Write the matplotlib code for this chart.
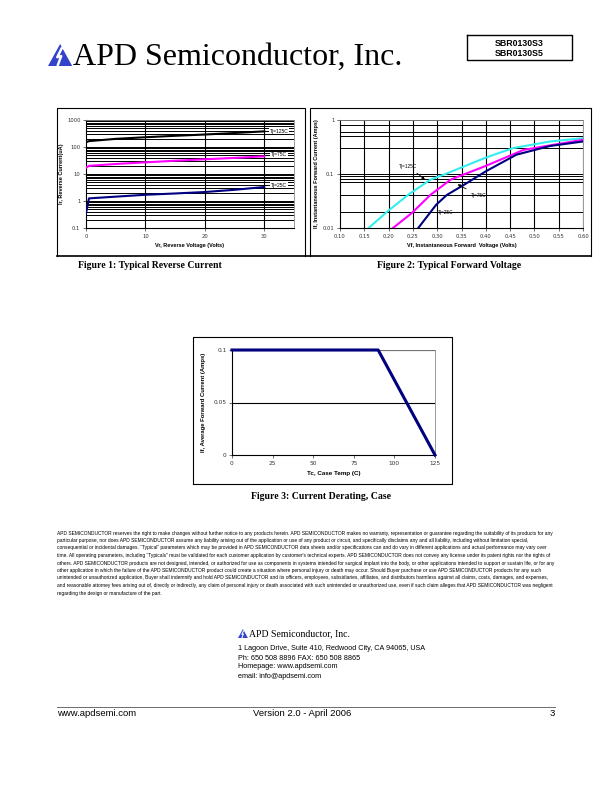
import matplotlib
matplotlib.use("Agg")
import matplotlib.pyplot as plt
from matplotlib.patches import Polygon
from matplotlib.lines import Line2D

W, H = 612, 792

# -----------------------------
# DATA
# -----------------------------
# Figure 1: reverse current vs reverse voltage
vr = [0, 0.5, 5, 10, 15, 20, 25, 30]
ir_125 = [150, 165, 200, 230, 260, 290, 330, 380]
ir_75 = [17, 20, 23.5, 27, 31, 35, 39.5, 45]
ir_25 = [0.35, 1.25, 1.45, 1.7, 1.9, 2.15, 2.6, 3.3]
vr_ticks = [0, 10, 20, 30]
ir_ticks = [0.1, 1, 10, 100, 1000]
ir_tick_labels = ["0.1", "1", "10", "100", "1000"]

# Figure 2: forward current vs forward voltage
vf_125 = [0.159, 0.198, 0.24, 0.286, 0.317, 0.398, 0.455, 0.532, 0.60]
if_125 = [0.010, 0.0204, 0.041, 0.0786, 0.10, 0.198, 0.30, 0.40, 0.46]
vf_75 = [0.209, 0.248, 0.286, 0.328, 0.398, 0.478, 0.60]
if_75 = [0.010, 0.019, 0.041, 0.079, 0.139, 0.28, 0.43]
vf_25 = [0.261, 0.298, 0.32, 0.355, 0.40, 0.463, 0.532, 0.60]
if_25 = [0.010, 0.027, 0.041, 0.063, 0.112, 0.228, 0.33, 0.40]
vf_ticks = [0.10, 0.15, 0.20, 0.25, 0.30, 0.35, 0.40, 0.45, 0.50, 0.55, 0.60]
if_ticks = [0.01, 0.1, 1]
if_tick_labels = ["0.01", "0.1", "1"]
if_grid = [0.8, 0.6, 0.5, 0.3, 0.09, 0.08, 0.07, 0.04, 0.02]

# Figure 3: current derating
tc = [0, 90, 125]
if_avg = [0.1, 0.1, 0]
tc_ticks = [0, 25, 50, 75, 100, 125]
ifa_ticks = [0, 0.05, 0.1]
ifa_tick_labels = ["0", "0.05", "0.1"]

disclaimer = [
    "APD SEMICONDUCTOR reserves the right to make changes without further notice to any products herein. APD SEMICONDUCTOR makes no warranty, representation or guarantee regarding the suitability of its products for any",
    "particular purpose, nor does APD SEMICONDUCTOR assume any liability arising out of the application or use of any product or circuit, and specifically disclaims any and all liability, including without limitation special,",
    "consequential or incidental damages. \u201cTypical\u201d parameters which may be provided in APD SEMICONDUCTOR data sheets and/or specifications can and do vary in different applications and actual performance may vary over",
    "time. All operating parameters, including \u201cTypicals\u201d must be validated for each customer application by customer's technical experts. APD SEMICONDUCTOR does not convey any license under its patent rights nor the rights of",
    "others. APD SEMICONDUCTOR products are not designed, intended, or authorized for use as components in systems intended for surgical implant into the body, or other applications intended to support or sustain life, or for any",
    "other application in which the failure of the APD SEMICONDUCTOR product could create a situation where personal injury or death may occur. Should Buyer purchase or use APD SEMICONDUCTOR products for any such",
    "unintended or unauthorized application, Buyer shall indemnify and hold APD SEMICONDUCTOR and its officers, employees, subsidiaries, affiliates, and distributors harmless against all claims, costs, damages, and expenses,",
    "and reasonable attorney fees arising out of, directly or indirectly, any claim of personal injury or death associated with such unintended or unauthorized use, even if such claim alleges that APD SEMICONDUCTOR was negligent",
    "regarding the design or manufacture of the part.",
]

address = [
    "1 Lagoon Drive, Suite 410, Redwood City, CA 94065, USA",
    "Ph: 650 508 8896 FAX: 650 508 8865",
    "Homepage: www.apdsemi.com",
    "email: info@apdsemi.com",
]

NAVY = "#000080"
MAGENTA = "#ff00ff"
CYAN = "#33eeee"
SERIF = "Liberation Serif"
SANS = "Liberation Sans"

fig = plt.figure(figsize=(W / 100, H / 100), dpi=100)
fig.patch.set_facecolor("white")


def rect(x0, y0, x1, y1):
    return [x0 / W, 1 - y1 / H, (x1 - x0) / W, (y1 - y0) / H]


def ftext(x, y, s, **kw):
    fig.text(x / W, 1 - y / H, s, **kw)


def fline(xs, ys, **kw):
    fig.add_artist(Line2D([x / W for x in xs], [1 - y / H for y in ys],
                          transform=fig.transFigure, **kw))


def logo(x, y, size):
    # blue triangle with white bolt
    pts = [(x, y + size), (x + size * 0.55, y), (x + size * 1.1, y + size)]
    fig.add_artist(Polygon([(px / W, 1 - py / H) for px, py in pts],
                           closed=True, transform=fig.transFigure,
                           facecolor="#3344cc", edgecolor="none"))
    bolt = [(x + size * 0.62, y + size * 0.2), (x + size * 0.42, y + size * 0.6),
            (x + size * 0.6, y + size * 0.55), (x + size * 0.45, y + size * 0.95)]
    fline([p[0] for p in bolt], [p[1] for p in bolt], color="white", lw=size * 0.08)


# -----------------------------
# HEADER
# -----------------------------
logo(48, 44, 22)
ftext(73, 65, "APD Semiconductor, Inc.", family=SERIF, fontsize=23, va="baseline")
fline([467, 572, 572, 467, 467], [35, 35, 60, 60, 35], color="black", lw=1)
ftext(519, 43, "SBR0130S3", family=SANS, fontsize=6.3, weight="bold", ha="center", va="center")
ftext(519, 53, "SBR0130S5", family=SANS, fontsize=6.3, weight="bold", ha="center", va="center")

# frames of the two top charts
fline([57, 57, 305, 305], [256, 108, 108, 256], color="black", lw=0.8)
fline([310, 310, 591, 591], [256, 108, 108, 256], color="black", lw=0.8)
fline([57, 591], [256, 256], color="black", lw=1.2)


def style_axes(ax, fs=3.8):
    ax.tick_params(labelsize=fs, length=2, width=0.5, colors="#333333", pad=2)
    for s in ("top", "right"):
        ax.spines[s].set_color("#888888")
        ax.spines[s].set_linewidth(0.6)
    for s in ("left", "bottom"):
        ax.spines[s].set_color("black")
        ax.spines[s].set_linewidth(0.8)


# -----------------------------
# FIGURE 1
# -----------------------------
ax1 = fig.add_axes(rect(86, 120, 294, 228))
ax1.set_yscale("log")
ax1.set_xlim(0, 35)
ax1.set_ylim(0.1, 1000)
for dec in [0.1, 1, 10, 100]:
    for m in range(1, 10):
        ax1.axhline(dec * m, color="black", lw=0.7, zorder=1)
ax1.axhline(1000, color="black", lw=0.7, zorder=1)
for v in vr_ticks[1:]:
    ax1.axvline(v, color="black", lw=0.8, zorder=1)
ax1.plot(vr, ir_125, color="black", lw=1.5, zorder=3)
ax1.plot(vr, ir_75, color=MAGENTA, lw=1.5, zorder=3)
ax1.plot(vr, ir_25, color=NAVY, lw=1.5, zorder=3)
lab_box = dict(facecolor="white", edgecolor="none", pad=0.6)
ax1.text(32.5, 390, "Tj=125C", fontsize=3.6, family=SANS, ha="center", va="center", bbox=lab_box, zorder=4)
ax1.text(32.5, 51, "Tj=75C", fontsize=3.6, family=SANS, ha="center", va="center", bbox=lab_box, zorder=4)
ax1.text(32.5, 3.9, "Tj=25C", fontsize=3.6, family=SANS, ha="center", va="center", bbox=lab_box, zorder=4)
ax1.set_xticks(vr_ticks)
ax1.set_xticklabels([str(v) for v in vr_ticks])
ax1.set_yticks(ir_ticks)
ax1.set_yticklabels(ir_tick_labels)
ax1.yaxis.set_minor_locator(matplotlib.ticker.NullLocator())
style_axes(ax1)
ax1.set_xlabel("Vr, Reverse Voltage (Volts)", fontsize=4, weight="bold", family=SANS, labelpad=3)
ax1.set_ylabel("Ir, Reverse Current(uA)", fontsize=4, weight="bold", family=SANS, labelpad=2)

# -----------------------------
# FIGURE 2
# -----------------------------
ax2 = fig.add_axes(rect(340, 120, 583, 228))
ax2.set_yscale("log")
ax2.set_xlim(0.10, 0.60)
ax2.set_ylim(0.01, 1)
for v in vf_ticks[1:]:
    ax2.axvline(v, color="black", lw=0.8, zorder=1)
for g in if_grid + [0.1, 1]:
    ax2.axhline(g, color="black", lw=0.7, zorder=1)
ax2.plot(vf_125, if_125, color=CYAN, lw=1.5, zorder=3)
ax2.plot(vf_75, if_75, color=MAGENTA, lw=1.5, zorder=3)
ax2.plot(vf_25, if_25, color=NAVY, lw=1.5, zorder=3)
arrow = dict(arrowstyle="-|>", color="black", lw=0.6, mutation_scale=4)
ax2.annotate("Tj=125C", xy=(0.279, 0.074), xytext=(0.24, 0.14), fontsize=3.4,
             family=SANS, ha="center", va="center", arrowprops=arrow, zorder=4)
ax2.annotate("Tj=75C", xy=(0.337, 0.068), xytext=(0.385, 0.04), fontsize=3.4,
             family=SANS, ha="center", va="center", arrowprops=arrow, zorder=4)
ax2.text(0.318, 0.019, "Tj=25C", fontsize=3.4, family=SANS, ha="center", va="center", zorder=4)
ax2.set_xticks(vf_ticks)
ax2.set_xticklabels(["%.2f" % v for v in vf_ticks])
ax2.set_yticks(if_ticks)
ax2.set_yticklabels(if_tick_labels)
ax2.yaxis.set_minor_locator(matplotlib.ticker.NullLocator())
style_axes(ax2)
ax2.set_xlabel("Vf, Instantaneous Forward  Voltage (Volts)", fontsize=4, weight="bold", family=SANS, labelpad=3)
ax2.set_ylabel("If, Instantaneous Forward Current (Amps)", fontsize=4, weight="bold", family=SANS, labelpad=3)

ftext(150, 266, "Figure 1: Typical Reverse Current", family=SERIF, fontsize=7, weight="bold", ha="center", va="center")
ftext(449, 266, "Figure 2: Typical Forward Voltage", family=SERIF, fontsize=7, weight="bold", ha="center", va="center")

# -----------------------------
# FIGURE 3
# -----------------------------
fline([193, 193, 452, 452, 193], [484, 337, 337, 484, 484], color="black", lw=0.8)
ax3 = fig.add_axes(rect(232, 350, 435, 455))
ax3.set_xlim(0, 125)
ax3.set_ylim(0, 0.1)
ax3.axhline(0.05, color="black", lw=0.8, zorder=1)
ax3.axhline(0.1, color="black", lw=0.8, zorder=1)
ax3.plot(tc, if_avg, color=NAVY, lw=2.2, zorder=3, clip_on=False)
ax3.set_xticks(tc_ticks)
ax3.set_xticklabels([str(t) for t in tc_ticks])
ax3.set_yticks(ifa_ticks)
ax3.set_yticklabels(ifa_tick_labels)
style_axes(ax3, fs=4.2)
ax3.set_xlabel("Tc, Case Temp (C)", fontsize=4.5, weight="bold", family=SANS, labelpad=4)
ax3.set_ylabel("If, Average Forward Current (Amps)", fontsize=4.2, weight="bold", family=SANS, labelpad=5)

ftext(321, 497, "Figure 3: Current Derating, Case", family=SERIF, fontsize=7, weight="bold", ha="center", va="center")

# -----------------------------
# DISCLAIMER / ADDRESS / FOOTER
# -----------------------------
for i, line in enumerate(disclaimer):
    ftext(57, 533 + i * 7.5, line, family=SANS, fontsize=3.55, va="center")

logo(238, 629, 9)
ftext(249, 634, "APD Semiconductor, Inc.", family=SERIF, fontsize=7, va="center")
for i, line in enumerate(address):
    ftext(238, 649 + i * 9, line, family=SANS, fontsize=5.2, va="center")

fline([57, 555], [707, 707], color="#555555", lw=0.6)
ftext(57, 714, "www.apdsemi.com", family=SANS, fontsize=6.8, va="center")
ftext(302, 714, "Version 2.0 - April 2006", family=SANS, fontsize=6.8, ha="center", va="center")
ftext(555, 714, "3", family=SANS, fontsize=6.8, ha="right", va="center")

fig.savefig("out.png", dpi=100)
